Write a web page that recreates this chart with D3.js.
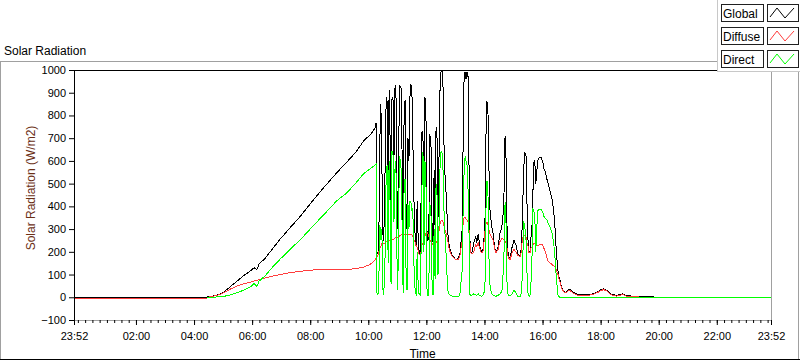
<!DOCTYPE html>
<html><head><meta charset="utf-8">
<script src="https://cdn.jsdelivr.net/npm/d3@7"></script>
<style>
body{margin:0;background:#fff}
svg{display:block}
text{font-family:"Liberation Sans",Arial,sans-serif}
</style>
</head><body>
<svg id="c" width="800" height="361"></svg>
<script>
// time in minutes since midnight (23:52 of previous day = -8)
const minutes = [-8,252,267,273,285,300,314,331,341,356,364,370,374,387,401,418,438,459,486,511,535,556,575,591,604,610,614,616,
618,620,622,624,626,628,630,632,635,637,639,641,643,645,647,649,651,653,655,657,659,661,663,665,668,670,672,674,676,678,680,682,684,686,688,690,692,694,697,699,701,703,705,707,
709,711,713,715,717,719,721,723,725,727,730,732,734,736,738,740,742,744,746,748,750,752,754,756,758,761,763,765,767,769,773,777,781,785,789,794,796,798,800,802,804,806,808,810,
812,814,818,820,822,824,827,829,831,833,835,837,839,841,843,845,847,849,851,853,855,858,860,862,864,868,872,876,880,882,884,886,889,893,897,901,905,909,
913,915,917,919,921,923,926,928,930,932,934,936,938,940,942,944,946,948,950,952,954,957,959,961,963,965,967,969,971,975,979,983,986,988,990,992,994,996,998,1000,
1004,1008,1012,1016,1023,1033,1048,1062,1075,1081,1087,1093,1101,1112,1120,1126,1135,1151,1172,1192,1213,1432];

const globalVals = [0,0,1,3,8,20,45,75,93,115,130,122,145,172,210,256,305,355,427,490,548,596,640,690,715,732,745,765,
200,190,300,700,850,600,280,250,600,880,860,400,910,700,300,870,880,600,920,935,500,300,700,930,920,600,290,800,870,400,300,700,600,880,938,920,700,450,250,230,424,260,200,190,
424,732,700,400,880,850,300,250,260,720,650,260,240,560,300,750,700,350,600,902,990,997,980,700,560,450,350,260,230,210,185,175,165,170,185,300,700,982,990,960,990,980,600,250,
200,195,240,250,270,240,280,250,220,205,200,210,260,320,700,858,850,600,395,350,310,280,240,210,200,220,280,310,400,700,710,350,180,170,220,250,230,190,
181,190,250,400,560,637,620,400,250,200,200,260,300,450,593,600,500,550,600,612,615,615,605,590,565,555,540,520,505,470,440,380,300,220,160,115,90,75,55,40,
27,22,30,35,22,12,10,14,25,35,37,30,15,8,12,15,6,5,3,1,0,0];

const diffuseVals = [-6,-6,-3,2,7,18,35,52,58,66,72,75,78,85,93,100,108,114,120,121,122,122,126,133,145,155,165,172,
180,185,200,215,225,235,240,235,240,245,245,245,250,250,250,255,255,255,260,262,262,262,265,270,275,275,277,277,277,277,275,275,275,277,277,275,270,255,240,225,220,205,190,185,
200,230,240,255,270,280,285,280,270,255,240,235,232,235,235,240,245,260,290,320,335,340,335,320,300,280,260,240,215,200,180,172,165,165,178,250,330,350,350,345,340,330,300,240,
195,190,200,220,230,225,240,225,210,200,195,205,240,290,320,330,320,300,280,270,265,250,225,205,195,210,245,260,255,250,245,230,175,165,195,210,200,185,
180,182,230,260,270,270,265,240,225,195,195,215,220,230,235,235,235,230,230,230,232,235,232,225,215,205,190,175,160,152,145,138,132,125,112,100,82,68,50,36,
24,19,26,31,19,9,7,11,22,31,33,27,12,5,9,12,3,2,0,0,0,0];

const directVals = [null,null,0,0,1,3,10,22,30,45,60,48,70,95,130,168,210,252,314,370,425,460,505,545,565,575,582,585,
20,10,100,320,250,300,40,10,200,560,580,150,600,420,60,640,640,330,560,600,200,30,440,620,560,300,20,500,520,120,30,409,300,420,420,380,394,160,20,12,200,60,12,10,
200,500,637,200,600,550,40,10,10,420,350,20,10,300,80,500,450,100,300,560,637,640,600,400,300,180,80,20,12,10,5,3,2,3,8,120,400,560,620,600,580,480,300,12,
8,10,15,10,12,8,15,10,8,5,5,8,20,40,380,512,500,200,60,30,15,10,8,5,5,8,15,25,150,400,420,80,8,5,15,30,20,5,
5,5,40,150,328,320,250,100,20,5,5,60,150,387,380,360,200,300,380,385,385,385,380,370,355,350,345,340,330,310,290,240,170,100,50,10,2,0,0,0,
0,0,0,0,0,0,0,0,0,0,0,0,0,0,0,0,0,0,0,0,0,0];

const seriesNames = ["Global","Diffuse","Direct"];
const seriesColors = ["#000000","#ff3c3c","#00ff00"];
const yTicks = [-100,0,100,200,300,400,500,600,700,800,900,1000];
const xTickMinutes = [-8,120,240,360,480,600,720,840,960,1080,1200,1320,1432];
const xTickLabels = ["23:52","02:00","04:00","06:00","08:00","10:00","12:00","14:00","16:00","18:00","20:00","22:00","23:52"];

const svg = d3.select("#c");
const L = 74, R = 771, T = 70, B = 320;
const x = d3.scaleLinear().domain([-8,1432]).range([L,R]);
const y = d3.scaleLinear().domain([-100,1000]).range([B,T]);

// outer panel
svg.append("rect").attr("x",0.5).attr("y",61.5).attr("width",798).attr("height",298)
  .attr("fill","#fff").attr("stroke","#a0a0a0");
svg.append("line").attr("x1",0).attr("x2",800).attr("y1",359.5).attr("y2",359.5).attr("stroke","#000");

svg.append("text").attr("x",4).attr("y",55).attr("font-size",12).attr("fill","#000").text("Solar Radiation");

// plot frame
svg.append("defs").append("clipPath").attr("id","clip").append("rect")
  .attr("x",L+1).attr("y",T+1).attr("width",R-L-1).attr("height",B-T);
svg.append("line").attr("x1",R+0.5).attr("x2",R+0.5).attr("y1",T).attr("y2",B+1).attr("stroke","#a0a0a0");
svg.append("line").attr("x1",L).attr("x2",R+1).attr("y1",B+0.5).attr("y2",B+0.5).attr("stroke","#a0a0a0");
svg.append("line").attr("x1",L+0.5).attr("x2",L+0.5).attr("y1",T).attr("y2",B+1).attr("stroke","#000");
svg.append("line").attr("x1",L).attr("x2",R+1).attr("y1",T+0.5).attr("y2",T+0.5).attr("stroke","#000");

// axes
const yAxis = svg.append("g").attr("transform",`translate(${L},0)`)
  .call(d3.axisLeft(y).tickValues(yTicks).tickSize(5).tickPadding(3).tickFormat(d3.format("d")));
const xMinor = svg.append("g").attr("transform",`translate(0,${B})`)
  .call(d3.axisBottom(x).tickValues(d3.range(0,1432,15)).tickSize(3).tickFormat(""));
const xAxis = svg.append("g").attr("transform",`translate(0,${B})`)
  .call(d3.axisBottom(x).tickValues(xTickMinutes).tickSize(5).tickPadding(7).tickFormat((d,i)=>xTickLabels[i]));
[yAxis,xMinor,xAxis].forEach(g=>{
  g.select(".domain").remove();
  g.selectAll("text").attr("font-family","'Liberation Sans',Arial,sans-serif").attr("font-size",11).attr("fill","#000");
  g.selectAll("line").attr("stroke","#000");
});

svg.append("text").attr("x",(L+R)/2).attr("y",358).attr("text-anchor","middle").attr("font-size",12).text("Time");
svg.append("text").attr("transform","translate(35,188) rotate(-90)").attr("text-anchor","middle")
  .attr("font-size",12).attr("fill","#6b2f16").text("Solar Radiation (W/m2)");

// data lines
const data = minutes.map((m,i)=>({m, v:[globalVals[i],diffuseVals[i],directVals[i]]}));
const plot = svg.append("g").attr("clip-path","url(#clip)");
seriesNames.forEach((name,k)=>{
  const line = d3.line().defined(d=>d.v[k]!==null).x(d=>x(d.m)).y(d=>y(d.v[k]));
  plot.append("path").datum(data).attr("d",line).attr("fill","none")
    .attr("stroke",seriesColors[k]).attr("stroke-width",1).attr("shape-rendering","crispEdges");
});

// legend
const lg = svg.append("g");
lg.append("rect").attr("x",717).attr("y",0).attr("width",83).attr("height",72).attr("fill","#fff");
lg.append("line").attr("x1",717.5).attr("x2",717.5).attr("y1",0).attr("y2",72).attr("stroke","#c8c8c8");
lg.append("line").attr("x1",717).attr("x2",800).attr("y1",71.5).attr("y2",71.5).attr("stroke","#c8c8c8");
const rowY = [4,27,50];
seriesNames.forEach((name,k)=>{
  const y0 = rowY[k];
  lg.append("rect").attr("x",721.5).attr("y",y0+0.5).attr("width",42).attr("height",17)
    .attr("fill","#fff").attr("stroke","#202020");
  lg.append("text").attr("x",723).attr("y",y0+13.5).attr("font-size",12).text(name);
  lg.append("rect").attr("x",767.5).attr("y",y0+0.5).attr("width",31).attr("height",17)
    .attr("fill","#fff").attr("stroke","#202020");
  lg.append("path").attr("d",`M770,${y0+13}L777,${y0+4}L785,${y0+14}L794,${y0+4}`)
    .attr("fill","none").attr("stroke",seriesColors[k]).attr("stroke-width",1);
});
</script>
</body></html>
